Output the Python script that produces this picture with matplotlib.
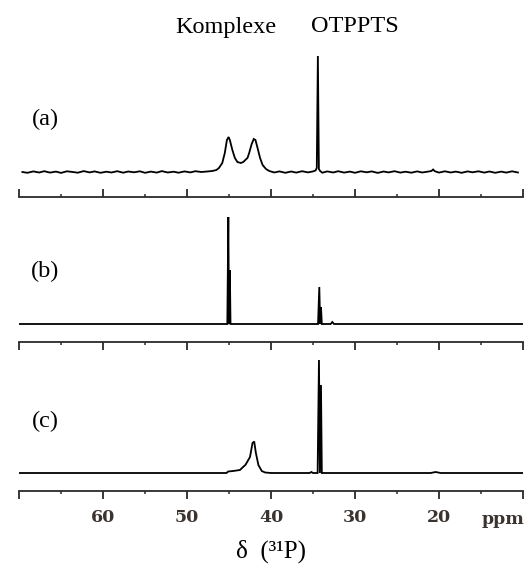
import matplotlib
matplotlib.use("Agg")
import matplotlib.pyplot as plt
from matplotlib.ticker import MultipleLocator

W, H = 526, 576

# ---------------- data (ppm, relative intensity) -------------
# spectrum (a): baseline noise + Komplexe doublet + OTPPTS singlet
a_ppm = [69.6, 69.0, 68.3, 67.6, 67.0, 66.3, 65.6, 65.0, 64.3, 63.6, 63.0, 62.3, 61.6,
         61.0, 60.3, 59.6, 59.0, 58.3, 57.6, 57.0, 56.3, 55.6, 55.0, 54.3, 53.6, 53.0,
         52.3, 51.6, 51.0, 50.3, 49.6, 49.0, 48.3, 47.6, 47.0, 46.5, 46.2, 45.8, 45.5,
         45.25, 45.05, 44.9, 44.6, 44.3, 44.0, 43.6, 43.3, 43.0, 42.8, 42.6, 42.3, 42.05,
         41.85, 41.6, 41.3, 41.0, 40.6, 40.2, 39.6, 39.0, 38.3, 37.6, 37.0, 36.3, 35.6,
         35.0, 34.7, 34.55, 34.42, 34.3, 34.15, 33.9, 33.3, 32.6, 32.0, 31.3, 30.6, 30.0,
         29.3, 28.6, 28.0, 27.3, 26.6, 26.0, 25.3, 24.6, 24.0, 23.3, 22.6, 22.0, 21.3,
         20.9, 20.7, 20.5, 20.0, 19.3, 18.6, 18.0, 17.3, 16.6, 16.0, 15.3, 14.6, 14.0,
         13.3, 12.6, 12.0, 11.3, 10.6]
a_int = [0.0, -0.8, 0.6, -0.5, 0.8, -0.6, 0.4, -0.9, 0.7, 0.0, -0.7, 0.9, -0.4,
         0.6, -0.8, 0.3, -0.5, 0.8, -0.7, 0.5, -0.3, 0.7, -0.8, 0.4, -0.6, 0.9,
         -0.5, 0.3, -0.7, 0.6, -0.4, 0.8, 0.0, 0.5, 1.0, 2.0, 4.0, 9.0, 19.0,
         32.0, 35.0, 32.0, 22.0, 14.0, 10.0, 9.0, 10.0, 12.5, 14.0, 19.0, 28.0, 33.0,
         32.0, 24.0, 14.0, 7.0, 3.0, 1.0, -0.5, 0.6, -0.8, 0.5, -0.6, 0.8, -0.4,
         0.6, 1.5, 4.0, 116.0, 3.0, 1.0, -0.7, 0.6, -0.5, 0.8, -0.6, 0.4, -0.8,
         0.7, -0.3, 0.6, -0.9, 0.5, -0.4, 0.8, -0.6, 0.3, -0.7, 0.6, -0.5, 0.4,
         1.0, 2.5, 0.8, -0.6, 0.7, -0.5, 0.4, -0.8, 0.6, -0.3, 0.7, -0.6, 0.5,
         -0.8, 0.4, -0.6, 0.7, -0.5]

# spectrum (b): sharp lines
b_ppm = [70.0, 45.2, 45.08, 45.0, 44.9, 44.82, 34.4, 34.25, 34.15, 34.05, 33.95,
         32.9, 32.7, 32.5, 10.0]
b_int = [0.0, 0.0, 107.0, 0.0, 54.0, 0.0, 0.0, 37.0, 0.0, 17.0, 0.0,
         0.0, 2.0, 0.0, 0.0]

# spectrum (c): broad Komplexe peak + sharp OTPPTS doublet
c_ppm = [70.0, 45.3, 45.1, 44.5, 43.7, 43.2, 43.05, 42.5, 42.2, 42.0, 41.8, 41.5,
         41.1, 40.7, 40.0, 35.4, 35.2, 35.0, 34.45, 34.29, 34.18, 34.05, 33.95,
         21.0, 20.4, 19.8, 10.0]
c_int = [0.0, 0.0, 1.5, 2.0, 3.0, 7.0, 8.0, 16.0, 30.0, 31.5, 20.0, 8.0,
         2.0, 0.5, 0.0, 0.0, 1.0, 0.0, 0.0, 113.0, 0.0, 88.0, 0.0,
         0.0, 1.0, 0.0, 0.0]

tick_values = [70, 60, 50, 40, 30, 20, 10]
tick_labels = ["", "60", "50", "40", "30", "20", ""]
panel_labels = ["(a)", "(b)", "(c)"]
header_labels = ["Komplexe", "OTPPTS"]
x_label = "δ  (³¹P)"
unit_label = "ppm"

# ---------------- layout helpers -------------------------------------------------
def ax_rect(x0, y_top, x1, y_bot):
    return [x0 / W, 1 - y_bot / H, (x1 - x0) / W, (y_bot - y_top) / H]

SPINE = "#2a2a2a"
LABC = "#3b3330"
fig = plt.figure(figsize=(W / 100, H / 100), dpi=100)
fig.patch.set_facecolor("white")

X0, X1 = 19, 523

ax_a = fig.add_axes(ax_rect(X0, 45, X1, 197))
ax_a.plot(a_ppm, a_int, color="black", lw=1.3, solid_joinstyle="miter")
ax_a.set_ylim(-25, 127)

ax_b = fig.add_axes(ax_rect(X0, 200, X1, 340))
ax_b.plot(b_ppm, b_int, color="black", lw=1.3, solid_joinstyle="miter")
ax_b.set_ylim(-16, 124)

ax_c = fig.add_axes(ax_rect(X0, 342, X1, 491))
ax_c.plot(c_ppm, c_int, color="black", lw=1.3, solid_joinstyle="miter")
ax_c.set_ylim(-18, 131)

ax_ct = ax_c.twiny()

for ax in (ax_a, ax_b, ax_c, ax_ct):
    ax.set_xlim(70, 10)
    ax.set_facecolor("none")
    for s in ax.spines.values():
        s.set_visible(False)
    ax.set_yticks([])
    ax.xaxis.set_minor_locator(MultipleLocator(5))

def style_axis(ax, side, direction, labels):
    ax.spines[side].set_visible(True)
    ax.spines[side].set_color(SPINE)
    ax.spines[side].set_linewidth(1.3)
    ax.set_xticks(tick_values)
    kw = {"top": side == "top", "bottom": side == "bottom",
          "labeltop": False, "labelbottom": labels}
    ax.tick_params(axis="x", which="major", direction=direction, length=6,
                   width=1.3, color=SPINE, pad=7, **kw)
    ax.tick_params(axis="x", which="minor", direction=direction, length=2.5,
                   width=1.1, color=SPINE, **kw)

# (a): bottom axis, inward ticks
style_axis(ax_a, "bottom", "in", False)
# (b): no axis
ax_b.set_xticks([])
ax_b.xaxis.set_minor_locator(plt.NullLocator())
ax_b.tick_params(axis="x", which="both", length=0, labelbottom=False)
# (c): top axis inward, bottom axis outward with labels
style_axis(ax_ct, "top", "in", False)
style_axis(ax_c, "bottom", "out", True)
ax_c.set_xticklabels(tick_labels)
for lab in ax_c.get_xticklabels():
    lab.set_fontfamily("DejaVu Serif")
    lab.set_fontweight("bold")
    lab.set_fontsize(12.5)
    lab.set_color(LABC)

# ---------------- texts ----------------------------------------------------------
def ftext(x, y, s, family="Liberation Serif", **kw):
    fig.text(x / W, 1 - y / H, s, ha="center", va="center",
             fontfamily=family, **kw)

ftext(226, 27, header_labels[0], fontsize=17.5)
ftext(355, 27, header_labels[1], fontsize=17.5)
for s, y in zip(panel_labels, [119, 271, 421]):
    ftext(45, y, s, fontsize=17.5)
ftext(503, 519, unit_label, family="DejaVu Serif", fontsize=12.5,
      fontweight="bold", color=LABC)
ftext(271, 551, x_label, fontsize=18)

fig.savefig("out.png", dpi=100, facecolor="white")
